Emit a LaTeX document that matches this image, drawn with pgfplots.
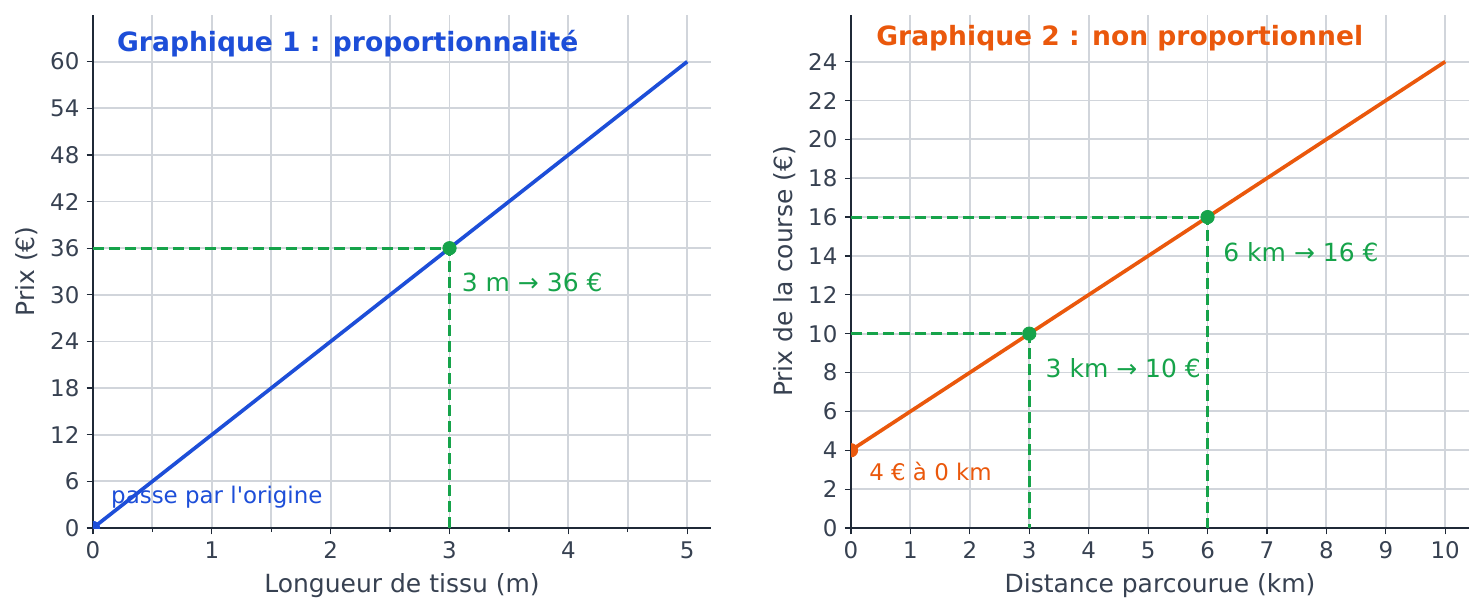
\documentclass[border=0pt]{standalone}
\usepackage{pgfplots}
\pgfplotsset{compat=1.18}
\usepackage{fontspec}
\setmainfont{DejaVu Sans}
\definecolor{cblue}{HTML}{1D4ED8}
\definecolor{corange}{HTML}{EA580C}
\definecolor{cgreen}{HTML}{16A34A}
\definecolor{ctext}{HTML}{374151}
\definecolor{cgrid}{HTML}{D1D5DB}
\definecolor{cspine}{HTML}{1F2937}
\pgfplotsset{
 mystyle/.style={
  scale only axis, width=296.64pt, height=246.24pt, anchor=south west,
  axis x line*=bottom, axis y line*=left,
  axis line style={cspine, line width=0.6pt, -},
  tick align=outside, major tick length=3pt, minor tick length=2pt,
  every tick/.style={cspine, line width=0.6pt},
  major grid style={cgrid, line width=0.9pt},
  minor grid style={cgrid, line width=0.9pt},
  ticklabel style={font=\fontsize{11}{13}\selectfont, text=ctext},
  /pgf/number format/assume math mode=true,
  label style={font=\fontsize{12}{14}\selectfont, text=ctext},
  xlabel style={at={(axis description cs:0.5,-0.113)}, anchor=center},
  ylabel style={at={(axis description cs:-0.107,0.5)}, anchor=center},
  clip marker paths=true,
 },
 guide/.style={cgreen, line width=1.5pt, dash pattern=on 5.3pt off 2.4pt},
 dot/.style={only marks, mark=*, mark size=3.2pt, #1},
}
\begin{document}
\begin{tikzpicture}
\useasboundingbox (0,0) rectangle (712.32pt,294.72pt);
\begin{axis}[mystyle, at={(44.64pt,41.28pt)},
  xmin=0, xmax=5.2, ymin=0, ymax=66,
  xtick={0,1,2,3,4,5}, ytick={0,6,...,60}, minor x tick num=1, grid=both,
  xlabel={Longueur de tissu (m)}, ylabel={Prix (€)}]
\addplot[guide] coordinates {(0,36) (3,36) (3,0)};
\addplot[cblue, line width=1.75pt] coordinates {(0,0) (5,60)};
\addplot[dot=cblue] coordinates {(0,0)};
\addplot[dot=cgreen] coordinates {(3,36)};
\node[anchor=west, font=\bfseries\fontsize{12.75}{15}\selectfont, text=cblue, inner sep=0pt] at (axis cs:0.2,62.3) {Graphique 1 : proportionnalité};
\node[anchor=west, font=\fontsize{12}{14}\selectfont, text=cgreen, inner sep=0pt] at (axis cs:3.1,31.6) {3 m → 36 €};
\node[anchor=west, font=\fontsize{11}{13}\selectfont, text=cblue, inner sep=0pt] at (axis cs:0.15,4.0) {passe par l\textquotesingle origine};
\end{axis}
\begin{axis}[mystyle, at={(408.48pt,41.28pt)},
  xmin=0, xmax=10.4, ymin=0, ymax=26.4,
  xtick={0,1,...,10}, ytick={0,2,...,24}, grid=major,
  xlabel={Distance parcourue (km)}, ylabel={Prix de la course (€)}]
\addplot[guide] coordinates {(0,16) (6,16) (6,0)};
\addplot[guide] coordinates {(0,10) (3,10) (3,0)};
\addplot[corange, line width=1.75pt] coordinates {(0,4) (10,24)};
\addplot[dot=corange] coordinates {(0,4)};
\addplot[dot=cgreen] coordinates {(3,10) (6,16)};
\node[anchor=west, font=\bfseries\fontsize{12.75}{15}\selectfont, text=corange, inner sep=0pt] at (axis cs:0.42,25.2) {Graphique 2 : non proportionnel};
\node[anchor=west, font=\fontsize{12}{14}\selectfont, text=cgreen, inner sep=0pt] at (axis cs:6.26,14.2) {6 km → 16 €};
\node[anchor=west, font=\fontsize{12}{14}\selectfont, text=cgreen, inner sep=0pt] at (axis cs:3.27,8.2) {3 km → 10 €};
\node[anchor=west, font=\fontsize{11}{13}\selectfont, text=corange, inner sep=0pt] at (axis cs:0.3,2.9) {4 € à 0 km};
\end{axis}
\end{tikzpicture}
\end{document}
